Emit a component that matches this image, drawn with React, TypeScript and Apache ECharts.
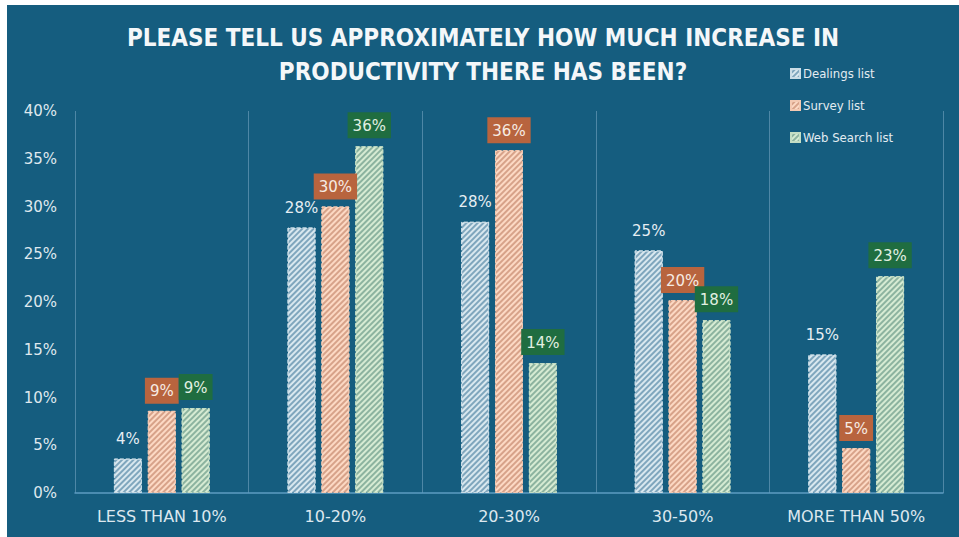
import React, { useEffect, useRef } from "react";
import * as echarts from "echarts";

const categories = ["LESS THAN 10%", "10-20%", "20-30%", "30-50%", "MORE THAN 50%"];
const dealings = [3.6, 27.8, 28.4, 25.4, 14.5];
const survey = [8.6, 30.0, 35.9, 20.2, 4.7];
const webSearch = [8.9, 36.3, 13.6, 18.1, 22.7];
const seriesNames = ["Dealings list", "Survey list", "Web Search list"];
const titleText = "PLEASE TELL US APPROXIMATELY HOW MUCH INCREASE IN\nPRODUCTIVITY THERE HAS BEEN?";

const FONT = "DejaVu Sans Condensed";

function hatch(stripe: string) {
  return {
    symbol: "rect",
    symbolSize: 1,
    rotation: -Math.PI / 4,
    dashArrayX: [1, 0],
    dashArrayY: [2, 2],
    color: stripe,
  };
}

export default function App() {
  const ref = useRef<HTMLDivElement>(null);
  useEffect(() => {
    if (!ref.current) return;
    const chart = echarts.init(ref.current, null, { renderer: "svg" });
    const fmt = (p: any) => Math.round(p.value) + "%";
    const mk = (name: string, data: number[], base: string, stripe: string, border: string, label: any) => ({
      name,
      type: "bar",
      data,
      barWidth: 28,
      barGap: "21%",
      itemStyle: {
        color: base,
        decal: hatch(stripe),
        borderColor: border,
        borderWidth: 1,
        borderType: "dashed",
      },
      label: {
        show: true,
        position: "top",
        formatter: fmt,
        fontFamily: "DejaVu Sans",
        fontSize: 15,
        ...label,
      },
    });
    chart.setOption({
      animation: false,
      backgroundColor: "#155d7f",
      title: {
        text: titleText,
        left: "center",
        top: 11,
        textStyle: {
          color: "#f4f7f9",
          fontFamily: FONT,
          fontWeight: "bold",
          fontSize: 24,
          lineHeight: 34,
        },
      },
      legend: {
        orient: "vertical",
        left: 778,
        top: 57,
        itemGap: 19,
        itemWidth: 9,
        itemHeight: 9,
        icon: "rect",
        data: seriesNames,
        textStyle: { color: "#e3ecf1", fontFamily: FONT, fontSize: 13, padding: [0, 0, 0, -2] },
      },
      grid: { left: 68, right: 16, top: 106, bottom: 44 },
      xAxis: {
        type: "category",
        data: categories,
        axisLine: { lineStyle: { color: "#5d9cc2", width: 1.5 } },
        axisTick: { show: false },
        splitLine: { show: true, interval: 0, lineStyle: { color: "#4e87a6", width: 1 } },
        axisLabel: { interval: 0, color: "#dde8ef", fontFamily: "DejaVu Sans", fontSize: 16, margin: 15 },
      },
      yAxis: {
        type: "value",
        min: 0,
        max: 40,
        interval: 5,
        axisLine: { show: false },
        axisTick: { show: false },
        splitLine: { show: false },
        axisLabel: { formatter: "{value}%", color: "#dfe8ee", fontFamily: "DejaVu Sans", fontSize: 15, margin: 18 },
      },
      series: [
        mk(seriesNames[0], dealings, "#7fa6bd", "#d9e8ef", "#c9dce6", { color: "#e6eef3", distance: 12 }),
        mk(seriesNames[1], survey, "#d7a289", "#fcd9c4", "#f3c9b2", {
          color: "#f6ebe3",
          backgroundColor: "#b8643e",
          padding: [6, 5, 5, 5],
          distance: 7,
        }),
        mk(seriesNames[2], webSearch, "#8cb39f", "#d6ebd3", "#c4dec4", {
          color: "#e2f0e2",
          backgroundColor: "#1f6d40",
          padding: [6, 5, 5, 5],
          distance: 8,
        }),
      ],
    });
    return () => chart.dispose();
  }, []);
  return (
    <div
      ref={ref}
      style={{ position: "absolute", left: 7, top: 5, width: 952, height: 532 }}
    />
  );
}
